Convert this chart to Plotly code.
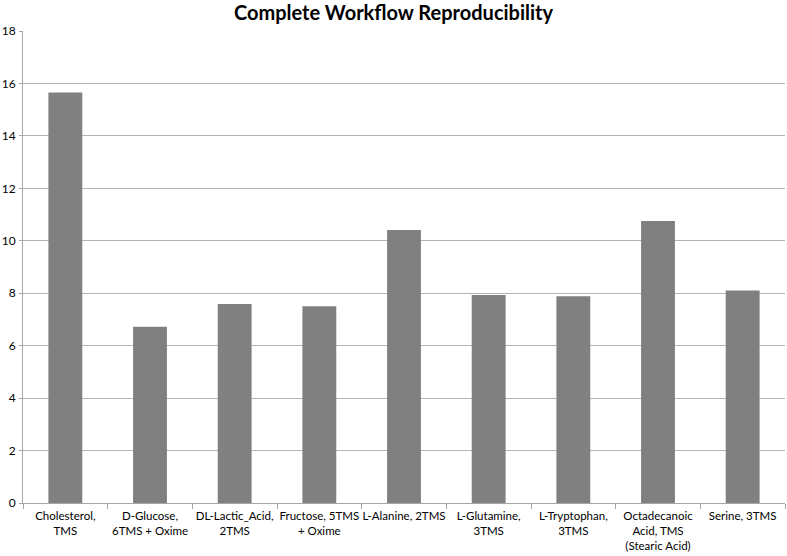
import plotly.graph_objects as go

categories = [
    "Cholesterol,<br>TMS",
    "D-Glucose,<br>6TMS + Oxime",
    "DL-Lactic_Acid,<br>2TMS",
    "Fructose, 5TMS<br>+ Oxime",
    "L-Alanine, 2TMS",
    "L-Glutamine,<br>3TMS",
    "L-Tryptophan,<br>3TMS",
    "Octadecanoic<br>Acid, TMS<br>(Stearic Acid)",
    "Serine, 3TMS",
]
values = [15.65, 6.72, 7.59, 7.50, 10.41, 7.93, 7.88, 10.75, 8.10]
y_ticks = [0, 2, 4, 6, 8, 10, 12, 14, 16, 18]

font_family = "Lato, 'Open Sans', sans-serif"

fig = go.Figure(
    go.Bar(
        x=categories,
        y=values,
        marker=dict(color="#808080", line=dict(width=0)),
        width=0.4,
    )
)

fig.update_layout(
    width=787,
    height=556,
    paper_bgcolor="white",
    plot_bgcolor="white",
    margin=dict(l=23, r=2, t=31, b=53, autoexpand=False),
    showlegend=False,
    title=dict(
        text="<b>Complete Workflow Reproducibility</b>",
        x=0.5,
        xanchor="center",
        y=0.99,
        yanchor="top",
        font=dict(family=font_family, size=20, color="black"),
    ),
    font=dict(family=font_family, size=12, color="black"),
)

fig.update_yaxes(
    range=[0, 18],
    tickvals=y_ticks,
    ticktext=[str(v) for v in y_ticks],
    showgrid=True,
    gridcolor="#b3b3b3",
    gridwidth=1,
    showline=True,
    linecolor="#a6a6a6",
    linewidth=1,
    ticks="outside",
    ticklen=3,
    tickcolor="#a6a6a6",
    zeroline=False,
    automargin=False,
    ticklabelstandoff=1,
    tickfont=dict(size=12),
)

fig.update_xaxes(
    showline=True,
    linecolor="#a6a6a6",
    linewidth=1,
    ticks="outside",
    tickson="boundaries",
    ticklen=5,
    tickcolor="#a6a6a6",
    showgrid=False,
    tickangle=0,
    automargin=False,
    ticklabelstandoff=2,
    tickfont=dict(size=11.5),
)

fig.write_html(
    "out.html",
    config={"displayModeBar": False},
    post_script="document.body.style.margin='0px';document.body.style.overflow='hidden';",
)
